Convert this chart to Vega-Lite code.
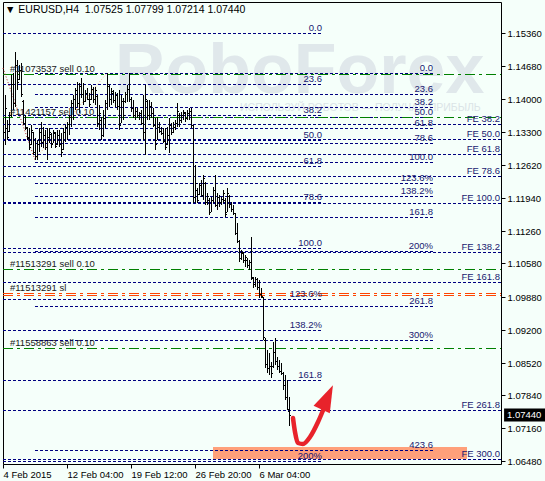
{
"$schema":"https://vega.github.io/schema/vega-lite/v6.json",
"width":498,"height":462,
"autosize":{"type":"none"},
"padding":{"left":3,"top":2,"right":44,"bottom":17},
"background":"#F5FFFA",
"config":{"view":{"stroke":"#000000","strokeWidth":1,"fill":"#F5FFFA"}},
"datasets":{
"bars":[
{"i":1,"o":1.1330,"h":1.14074,"l":1.13036,"c":1.1380},
{"i":2,"o":1.1338,"h":1.13555,"l":1.13140,"c":1.1320},
{"i":3,"o":1.1332,"h":1.13721,"l":1.13306,"c":1.1365},
{"i":4,"o":1.1365,"h":1.14489,"l":1.13617,"c":1.1430},
{"i":5,"o":1.1430,"h":1.14530,"l":1.13762,"c":1.1390},
{"i":6,"o":1.1390,"h":1.14966,"l":1.13825,"c":1.1470},
{"i":7,"o":1.1470,"h":1.14800,"l":1.14177,"c":1.1435},
{"i":8,"o":1.1440,"h":1.14696,"l":1.14385,"c":1.1460},
{"i":9,"o":1.1460,"h":1.14738,"l":1.14032,"c":1.1410},
{"i":10,"o":1.1395,"h":1.13970,"l":1.13451,"c":1.1350},
{"i":11,"o":1.1350,"h":1.13659,"l":1.13347,"c":1.1340},
{"i":12,"o":1.1338,"h":1.13410,"l":1.13140,"c":1.1318},
{"i":13,"o":1.1320,"h":1.13389,"l":1.12933,"c":1.1300},
{"i":14,"o":1.1305,"h":1.13451,"l":1.13036,"c":1.1335},
{"i":15,"o":1.1330,"h":1.13306,"l":1.12829,"c":1.1290},
{"i":16,"o":1.1290,"h":1.13182,"l":1.12725,"c":1.1280},
{"i":17,"o":1.1280,"h":1.13140,"l":1.12725,"c":1.1305},
{"i":18,"o":1.1305,"h":1.13389,"l":1.12891,"c":1.1330},
{"i":19,"o":1.1330,"h":1.13513,"l":1.12995,"c":1.1310},
{"i":20,"o":1.1310,"h":1.13410,"l":1.12974,"c":1.1325},
{"i":21,"o":1.1325,"h":1.13347,"l":1.12933,"c":1.1300},
{"i":22,"o":1.1300,"h":1.13389,"l":1.12725,"c":1.1320},
{"i":23,"o":1.1320,"h":1.13389,"l":1.13078,"c":1.1330},
{"i":24,"o":1.1326,"h":1.13285,"l":1.12974,"c":1.1305},
{"i":25,"o":1.1308,"h":1.13347,"l":1.13078,"c":1.1330},
{"i":26,"o":1.1328,"h":1.13306,"l":1.12974,"c":1.1302},
{"i":27,"o":1.1305,"h":1.13347,"l":1.13036,"c":1.1325},
{"i":28,"o":1.1325,"h":1.13347,"l":1.12995,"c":1.1305},
{"i":29,"o":1.1305,"h":1.13285,"l":1.12787,"c":1.1290},
{"i":30,"o":1.1295,"h":1.13389,"l":1.12933,"c":1.1330},
{"i":31,"o":1.1330,"h":1.13451,"l":1.13099,"c":1.1340},
{"i":32,"o":1.1340,"h":1.13513,"l":1.13140,"c":1.1348},
{"i":33,"o":1.1348,"h":1.13659,"l":1.13244,"c":1.1362},
{"i":34,"o":1.1362,"h":1.13970,"l":1.13410,"c":1.1390},
{"i":35,"o":1.1390,"h":1.14074,"l":1.13555,"c":1.1400},
{"i":36,"o":1.1400,"h":1.14219,"l":1.13762,"c":1.1418},
{"i":37,"o":1.1418,"h":1.14343,"l":1.13825,"c":1.1390},
{"i":38,"o":1.1390,"h":1.14323,"l":1.13700,"c":1.1425},
{"i":39,"o":1.1425,"h":1.14426,"l":1.14011,"c":1.1410},
{"i":40,"o":1.1410,"h":1.14323,"l":1.13866,"c":1.1395},
{"i":41,"o":1.1395,"h":1.14177,"l":1.13928,"c":1.1412},
{"i":42,"o":1.1412,"h":1.14219,"l":1.13970,"c":1.1400},
{"i":43,"o":1.1400,"h":1.14115,"l":1.13825,"c":1.1388},
{"i":44,"o":1.1400,"h":1.14281,"l":1.13970,"c":1.1420},
{"i":45,"o":1.1420,"h":1.14240,"l":1.13908,"c":1.1400},
{"i":46,"o":1.1400,"h":1.14240,"l":1.13866,"c":1.1418},
{"i":47,"o":1.1405,"h":1.14074,"l":1.13410,"c":1.1350},
{"i":48,"o":1.1350,"h":1.13866,"l":1.13347,"c":1.1370},
{"i":49,"o":1.1355,"h":1.13617,"l":1.13140,"c":1.1325},
{"i":50,"o":1.1325,"h":1.13762,"l":1.13202,"c":1.1360},
{"i":51,"o":1.1360,"h":1.13970,"l":1.13389,"c":1.1390},
{"i":52,"o":1.1390,"h":1.14530,"l":1.13762,"c":1.1430},
{"i":53,"o":1.1425,"h":1.14281,"l":1.13825,"c":1.1400},
{"i":54,"o":1.1400,"h":1.14219,"l":1.13866,"c":1.1415},
{"i":55,"o":1.1412,"h":1.14177,"l":1.13908,"c":1.1398},
{"i":56,"o":1.1398,"h":1.14136,"l":1.13825,"c":1.1408},
{"i":57,"o":1.1408,"h":1.14115,"l":1.13762,"c":1.1385},
{"i":58,"o":1.1385,"h":1.14177,"l":1.13347,"c":1.1345},
{"i":59,"o":1.1350,"h":1.14074,"l":1.13493,"c":1.1395},
{"i":60,"o":1.1395,"h":1.14011,"l":1.13555,"c":1.1365},
{"i":61,"o":1.1395,"h":1.14136,"l":1.13908,"c":1.1410},
{"i":62,"o":1.1410,"h":1.14281,"l":1.13928,"c":1.1420},
{"i":63,"o":1.1420,"h":1.14530,"l":1.13928,"c":1.1400},
{"i":64,"o":1.1400,"h":1.14032,"l":1.13721,"c":1.1380},
{"i":65,"o":1.1380,"h":1.13970,"l":1.13596,"c":1.1365},
{"i":66,"o":1.1365,"h":1.13825,"l":1.13555,"c":1.1375},
{"i":67,"o":1.1375,"h":1.13804,"l":1.13596,"c":1.1365},
{"i":68,"o":1.1365,"h":1.13721,"l":1.13555,"c":1.1370},
{"i":69,"o":1.1370,"h":1.13762,"l":1.13451,"c":1.1350},
{"i":70,"o":1.1350,"h":1.14074,"l":1.13140,"c":1.1330},
{"i":71,"o":1.1330,"h":1.14281,"l":1.12829,"c":1.1400},
{"i":72,"o":1.1395,"h":1.13970,"l":1.13555,"c":1.1365},
{"i":73,"o":1.1365,"h":1.13970,"l":1.13555,"c":1.1385},
{"i":74,"o":1.1385,"h":1.13928,"l":1.13596,"c":1.1370},
{"i":75,"o":1.1370,"h":1.13804,"l":1.13410,"c":1.1345},
{"i":76,"o":1.1345,"h":1.13596,"l":1.12933,"c":1.1305},
{"i":77,"o":1.1315,"h":1.13617,"l":1.13140,"c":1.1340},
{"i":78,"o":1.1340,"h":1.13513,"l":1.13285,"c":1.1332},
{"i":79,"o":1.1332,"h":1.13410,"l":1.13244,"c":1.1328},
{"i":80,"o":1.1328,"h":1.13389,"l":1.13078,"c":1.1312},
{"i":81,"o":1.1312,"h":1.13389,"l":1.12933,"c":1.1300},
{"i":82,"o":1.1305,"h":1.13410,"l":1.13036,"c":1.1325},
{"i":83,"o":1.1325,"h":1.13596,"l":1.12870,"c":1.1345},
{"i":84,"o":1.1345,"h":1.13493,"l":1.13244,"c":1.1330},
{"i":85,"o":1.1330,"h":1.13513,"l":1.13285,"c":1.1340},
{"i":86,"o":1.1340,"h":1.13555,"l":1.13347,"c":1.1350},
{"i":87,"o":1.1350,"h":1.13908,"l":1.13410,"c":1.1375},
{"i":88,"o":1.1365,"h":1.13700,"l":1.13410,"c":1.1355},
{"i":89,"o":1.1355,"h":1.13721,"l":1.13493,"c":1.1365},
{"i":90,"o":1.1365,"h":1.13762,"l":1.13555,"c":1.1372},
{"i":91,"o":1.1370,"h":1.13721,"l":1.13513,"c":1.1360},
{"i":92,"o":1.1360,"h":1.13762,"l":1.13555,"c":1.1370},
{"i":93,"o":1.1370,"h":1.13804,"l":1.13555,"c":1.1375},
{"i":94,"o":1.1375,"h":1.13804,"l":1.13389,"c":1.1345},
{"i":95,"o":1.1345,"h":1.13451,"l":1.11833,"c":1.1195},
{"i":96,"o":1.1195,"h":1.12621,"l":1.11833,"c":1.1225},
{"i":97,"o":1.1210,"h":1.12144,"l":1.11833,"c":1.1190},
{"i":98,"o":1.1202,"h":1.12248,"l":1.11999,"c":1.1220},
{"i":99,"o":1.1220,"h":1.12310,"l":1.11957,"c":1.1200},
{"i":100,"o":1.1200,"h":1.12414,"l":1.11895,"c":1.1235},
{"i":101,"o":1.1225,"h":1.12269,"l":1.11791,"c":1.1185},
{"i":102,"o":1.1185,"h":1.12040,"l":1.11791,"c":1.1198},
{"i":103,"o":1.1190,"h":1.11937,"l":1.11584,"c":1.1165},
{"i":104,"o":1.1165,"h":1.11957,"l":1.11646,"c":1.1190},
{"i":105,"o":1.1190,"h":1.12165,"l":1.11833,"c":1.1210},
{"i":106,"o":1.1210,"h":1.12414,"l":1.11750,"c":1.1180},
{"i":107,"o":1.1180,"h":1.12040,"l":1.11688,"c":1.1195},
{"i":108,"o":1.1195,"h":1.11999,"l":1.11750,"c":1.1185},
{"i":109,"o":1.1185,"h":1.11957,"l":1.11791,"c":1.1192},
{"i":110,"o":1.1192,"h":1.12103,"l":1.11833,"c":1.1205},
{"i":111,"o":1.1190,"h":1.11937,"l":1.11542,"c":1.1160},
{"i":112,"o":1.1165,"h":1.12144,"l":1.11646,"c":1.1205},
{"i":113,"o":1.1198,"h":1.11999,"l":1.11729,"c":1.1182},
{"i":114,"o":1.1182,"h":1.11854,"l":1.11646,"c":1.1170},
{"i":115,"o":1.1170,"h":1.11791,"l":1.11584,"c":1.1162},
{"i":116,"o":1.1162,"h":1.11625,"l":1.11169,"c":1.1122},
{"i":117,"o":1.1122,"h":1.11418,"l":1.11003,"c":1.1105},
{"i":118,"o":1.1105,"h":1.11065,"l":1.10609,"c":1.1070},
{"i":119,"o":1.1070,"h":1.10858,"l":1.10650,"c":1.1082},
{"i":120,"o":1.1080,"h":1.10816,"l":1.10588,"c":1.1065},
{"i":121,"o":1.1065,"h":1.10754,"l":1.10505,"c":1.1072},
{"i":122,"o":1.1065,"h":1.10692,"l":1.10484,"c":1.1055},
{"i":123,"o":1.1055,"h":1.10650,"l":1.10443,"c":1.1060},
{"i":124,"o":1.1060,"h":1.11127,"l":1.10235,"c":1.1030},
{"i":125,"o":1.1028,"h":1.10298,"l":1.10069,"c":1.1015},
{"i":126,"o":1.1015,"h":1.10298,"l":1.10090,"c":1.1025},
{"i":127,"o":1.1025,"h":1.10277,"l":1.10028,"c":1.1008},
{"i":128,"o":1.1008,"h":1.10235,"l":1.09862,"c":1.0995},
{"i":129,"o":1.0995,"h":1.10069,"l":1.09862,"c":1.0990},
{"i":130,"o":1.0988,"h":1.09883,"l":1.08990,"c":1.0905},
{"i":131,"o":1.0900,"h":1.09032,"l":1.08409,"c":1.0850},
{"i":132,"o":1.0850,"h":1.08783,"l":1.08306,"c":1.0840},
{"i":133,"o":1.0840,"h":1.08721,"l":1.08264,"c":1.0845},
{"i":134,"o":1.0845,"h":1.08534,"l":1.08202,"c":1.0830},
{"i":135,"o":1.0845,"h":1.08949,"l":1.08409,"c":1.0875},
{"i":136,"o":1.0875,"h":1.09032,"l":1.08472,"c":1.0855},
{"i":137,"o":1.0855,"h":1.08638,"l":1.08368,"c":1.0845},
{"i":138,"o":1.0845,"h":1.08575,"l":1.08306,"c":1.0835},
{"i":139,"o":1.0835,"h":1.08513,"l":1.08264,"c":1.0830},
{"i":140,"o":1.0830,"h":1.08326,"l":1.07953,"c":1.0805},
{"i":141,"o":1.0805,"h":1.08264,"l":1.07745,"c":1.0780},
{"i":142,"o":1.0780,"h":1.08160,"l":1.07538,"c":1.0755},
{"i":143,"o":1.07525,"h":1.07799,"l":1.07214,"c":1.07440}
],
"levels":[
{"t":"0.0","p":1.15360,"a":0,"b":160},{"t":"23.6","p":1.14309,"a":0,"b":160},{"t":"38.2","p":1.13658,"a":0,"b":160},{"t":"50.0","p":1.13133,"a":0,"b":160},{"t":"61.8","p":1.12607,"a":0,"b":160},{"t":"78.6","p":1.11858,"a":0,"b":160},{"t":"100.0","p":1.10905,"a":0,"b":160},{"t":"123.6%","p":1.09846,"a":0,"b":160},{"t":"138.2%","p":1.09203,"a":0,"b":160},{"t":"161.8","p":1.08152,"a":0,"b":160},{"t":"200%","p":1.06480,"a":0,"b":160},
{"t":"0.0","p":1.14530,"a":16,"b":215.5},{"t":"23.6","p":1.14094,"a":16,"b":215.5},{"t":"38.2","p":1.13825,"a":16,"b":215.5},{"t":"50.0","p":1.13607,"a":16,"b":215.5},{"t":"61.8","p":1.13389,"a":16,"b":215.5},{"t":"78.6","p":1.13079,"a":16,"b":215.5},{"t":"100.0","p":1.12684,"a":16,"b":215.5},{"t":"123.6%","p":1.12248,"a":16,"b":215.5},{"t":"138.2%","p":1.11978,"a":16,"b":215.5},{"t":"161.8","p":1.11542,"a":16,"b":215.5},{"t":"200%","p":1.10837,"a":16,"b":215.5},{"t":"261.8","p":1.09696,"a":16,"b":215.5},{"t":"300%","p":1.08990,"a":16,"b":215.5},{"t":"423.6","p":1.06708,"a":16,"b":215.5},
{"t":"FE 38.2","p":1.13475,"a":0,"b":249},{"t":"FE 50.0","p":1.13162,"a":0,"b":249},{"t":"FE 61.8","p":1.12849,"a":0,"b":249},{"t":"FE 78.6","p":1.12403,"a":0,"b":249},{"t":"FE 100.0","p":1.11835,"a":0,"b":249},{"t":"FE 138.2","p":1.10822,"a":0,"b":249},{"t":"FE 161.8","p":1.10195,"a":0,"b":249},{"t":"FE 261.8","p":1.07542,"a":0,"b":249},{"t":"FE 300.0","p":1.06528,"a":0,"b":249}
],
"orders":[{"t":"#11073537 sell 0.10","p":1.14510},{"t":"#11421157 sell 0.10","p":1.13617},{"t":"#11513291 sell 0.10","p":1.10464},{"t":"#11558863 sell 0.10","p":1.08818}],
"sl":[{"t":"#11513291 sl","p":1.09939}],
"arrow":[{"i":145,"p":1.07372},{"i":146,"p":1.07082},{"i":147.5,"p":1.06853},{"i":150,"p":1.06833},{"i":153.5,"p":1.06978},{"i":157.5,"p":1.07289},{"i":160.5,"p":1.07580}]
},
"layer":[
{"data":{"values":[{"i1":105,"i2":232,"p1":1.06776,"p2":1.06521}]},
 "mark":{"type":"rect","color":"#FFA07A"},
 "encoding":{"x":{"field":"i1","type":"quantitative","scale":{"domain":[0,249],"nice":false,"zero":false,"round":true},"axis":{"values":[0,32,64,96,128],"labelExpr":"datum.value==0?'4 Feb 2015':datum.value==32?'12 Feb 04:00':datum.value==64?'19 Feb 12:00':datum.value==96?'26 Feb 20:00':'6 Mar 04:00'","labelAlign":"left","labelFont":"Liberation Sans","labelFontSize":9.5,"labelColor":"#000000","tickColor":"#000000","tickSize":4,"domain":false,"grid":false,"title":null,"labelPadding":1,"labelFlush":false,"labelOverlap":false,"labelBound":false}},"x2":{"field":"i2"},
  "y":{"field":"p1","type":"quantitative","scale":{"domain":[1.06418,1.16003],"nice":false,"zero":false,"round":true},"axis":{"orient":"right","values":[1.0648,1.0716,1.0784,1.0852,1.092,1.0988,1.1058,1.1126,1.1194,1.1262,1.133,1.14,1.1468,1.1536],"format":".5f","labelFont":"Liberation Sans","labelFontSize":9.5,"labelColor":"#000000","tickColor":"#000000","tickSize":4,"labelPadding":2,"domain":false,"grid":false,"title":null,"labelOverlap":false,"labelBound":false}},"y2":{"field":"p2"}}},
{"data":{"values":[{"i":56,"p":1.14115,"t":"RoboForex"}]},
 "mark":{"type":"text","font":"Liberation Sans","fontWeight":"bold","fontSize":70,"color":"#e0e8eb","align":"left","baseline":"alphabetic"},
 "encoding":{"x":{"field":"i","type":"quantitative","scale":{"domain":[0,249],"nice":false,"zero":false,"round":true},"axis":{"values":[0,32,64,96,128],"labelExpr":"datum.value==0?'4 Feb 2015':datum.value==32?'12 Feb 04:00':datum.value==64?'19 Feb 12:00':datum.value==96?'26 Feb 20:00':'6 Mar 04:00'","labelAlign":"left","labelFont":"Liberation Sans","labelFontSize":9.5,"labelColor":"#000000","tickColor":"#000000","tickSize":4,"domain":false,"grid":false,"title":null,"labelPadding":1,"labelFlush":false,"labelOverlap":false,"labelBound":false}},
  "y":{"field":"p","type":"quantitative","scale":{"domain":[1.06418,1.16003],"nice":false,"zero":false,"round":true},"axis":{"orient":"right","values":[1.0648,1.0716,1.0784,1.0852,1.092,1.0988,1.1058,1.1126,1.1194,1.1262,1.133,1.14,1.1468,1.1536],"format":".5f","labelFont":"Liberation Sans","labelFontSize":9.5,"labelColor":"#000000","tickColor":"#000000","tickSize":4,"labelPadding":2,"domain":false,"grid":false,"title":null,"labelOverlap":false,"labelBound":false}},"text":{"field":"t"}}},
{"data":{"values":[{"i":118.5,"p":1.13742,"t":"ИСПОЛЬЗУЙ РОБОТОВ — ПОЛУЧАЙ ПРИБЫЛЬ"}]},
 "mark":{"type":"text","font":"Liberation Sans","fontSize":10.5,"color":"#dbe4e7","align":"left","baseline":"alphabetic"},
 "encoding":{"x":{"field":"i","type":"quantitative","scale":{"domain":[0,249],"nice":false,"zero":false,"round":true},"axis":{"values":[0,32,64,96,128],"labelExpr":"datum.value==0?'4 Feb 2015':datum.value==32?'12 Feb 04:00':datum.value==64?'19 Feb 12:00':datum.value==96?'26 Feb 20:00':'6 Mar 04:00'","labelAlign":"left","labelFont":"Liberation Sans","labelFontSize":9.5,"labelColor":"#000000","tickColor":"#000000","tickSize":4,"domain":false,"grid":false,"title":null,"labelPadding":1,"labelFlush":false,"labelOverlap":false,"labelBound":false}},
  "y":{"field":"p","type":"quantitative","scale":{"domain":[1.06418,1.16003],"nice":false,"zero":false,"round":true},"axis":{"orient":"right","values":[1.0648,1.0716,1.0784,1.0852,1.092,1.0988,1.1058,1.1126,1.1194,1.1262,1.133,1.14,1.1468,1.1536],"format":".5f","labelFont":"Liberation Sans","labelFontSize":9.5,"labelColor":"#000000","tickColor":"#000000","tickSize":4,"labelPadding":2,"domain":false,"grid":false,"title":null,"labelOverlap":false,"labelBound":false}},"text":{"field":"t"}}},
{"data":{"name":"levels"},
 "mark":{"type":"rule","color":"#000080","strokeWidth":1,"strokeDash":[3,2],"yOffset":0.5},
 "encoding":{"x":{"field":"a","type":"quantitative","scale":{"domain":[0,249],"nice":false,"zero":false,"round":true},"axis":{"values":[0,32,64,96,128],"labelExpr":"datum.value==0?'4 Feb 2015':datum.value==32?'12 Feb 04:00':datum.value==64?'19 Feb 12:00':datum.value==96?'26 Feb 20:00':'6 Mar 04:00'","labelAlign":"left","labelFont":"Liberation Sans","labelFontSize":9.5,"labelColor":"#000000","tickColor":"#000000","tickSize":4,"domain":false,"grid":false,"title":null,"labelPadding":1,"labelFlush":false,"labelOverlap":false,"labelBound":false}},"x2":{"field":"b"},
  "y":{"field":"p","type":"quantitative","scale":{"domain":[1.06418,1.16003],"nice":false,"zero":false,"round":true},"axis":{"orient":"right","values":[1.0648,1.0716,1.0784,1.0852,1.092,1.0988,1.1058,1.1126,1.1194,1.1262,1.133,1.14,1.1468,1.1536],"format":".5f","labelFont":"Liberation Sans","labelFontSize":9.5,"labelColor":"#000000","tickColor":"#000000","tickSize":4,"labelPadding":2,"domain":false,"grid":false,"title":null,"labelOverlap":false,"labelBound":false}}}},
{"data":{"name":"orders"},
 "mark":{"type":"rule","color":"#008000","strokeWidth":1,"strokeDash":[10,4,3,4],"yOffset":0.5},
 "encoding":{"x":{"datum":0,"type":"quantitative","scale":{"domain":[0,249],"nice":false,"zero":false,"round":true},"axis":{"values":[0,32,64,96,128],"labelExpr":"datum.value==0?'4 Feb 2015':datum.value==32?'12 Feb 04:00':datum.value==64?'19 Feb 12:00':datum.value==96?'26 Feb 20:00':'6 Mar 04:00'","labelAlign":"left","labelFont":"Liberation Sans","labelFontSize":9.5,"labelColor":"#000000","tickColor":"#000000","tickSize":4,"domain":false,"grid":false,"title":null,"labelPadding":1,"labelFlush":false,"labelOverlap":false,"labelBound":false}},"x2":{"datum":249},
  "y":{"field":"p","type":"quantitative","scale":{"domain":[1.06418,1.16003],"nice":false,"zero":false,"round":true},"axis":{"orient":"right","values":[1.0648,1.0716,1.0784,1.0852,1.092,1.0988,1.1058,1.1126,1.1194,1.1262,1.133,1.14,1.1468,1.1536],"format":".5f","labelFont":"Liberation Sans","labelFontSize":9.5,"labelColor":"#000000","tickColor":"#000000","tickSize":4,"labelPadding":2,"domain":false,"grid":false,"title":null,"labelOverlap":false,"labelBound":false}}}},
{"data":{"name":"sl"},
 "mark":{"type":"rule","color":"#ff4500","strokeWidth":1,"strokeDash":[10,4,3,4],"yOffset":-0.5},
 "encoding":{"x":{"datum":0,"type":"quantitative","scale":{"domain":[0,249],"nice":false,"zero":false,"round":true},"axis":{"values":[0,32,64,96,128],"labelExpr":"datum.value==0?'4 Feb 2015':datum.value==32?'12 Feb 04:00':datum.value==64?'19 Feb 12:00':datum.value==96?'26 Feb 20:00':'6 Mar 04:00'","labelAlign":"left","labelFont":"Liberation Sans","labelFontSize":9.5,"labelColor":"#000000","tickColor":"#000000","tickSize":4,"domain":false,"grid":false,"title":null,"labelPadding":1,"labelFlush":false,"labelOverlap":false,"labelBound":false}},"x2":{"datum":249},
  "y":{"field":"p","type":"quantitative","scale":{"domain":[1.06418,1.16003],"nice":false,"zero":false,"round":true},"axis":{"orient":"right","values":[1.0648,1.0716,1.0784,1.0852,1.092,1.0988,1.1058,1.1126,1.1194,1.1262,1.133,1.14,1.1468,1.1536],"format":".5f","labelFont":"Liberation Sans","labelFontSize":9.5,"labelColor":"#000000","tickColor":"#000000","tickSize":4,"labelPadding":2,"domain":false,"grid":false,"title":null,"labelOverlap":false,"labelBound":false}}}},
{"data":{"name":"sl"},
 "mark":{"type":"rule","color":"#ff4500","strokeWidth":1,"strokeDash":[10,4,3,4],"yOffset":1.5},
 "encoding":{"x":{"datum":0,"type":"quantitative","scale":{"domain":[0,249],"nice":false,"zero":false,"round":true},"axis":{"values":[0,32,64,96,128],"labelExpr":"datum.value==0?'4 Feb 2015':datum.value==32?'12 Feb 04:00':datum.value==64?'19 Feb 12:00':datum.value==96?'26 Feb 20:00':'6 Mar 04:00'","labelAlign":"left","labelFont":"Liberation Sans","labelFontSize":9.5,"labelColor":"#000000","tickColor":"#000000","tickSize":4,"domain":false,"grid":false,"title":null,"labelPadding":1,"labelFlush":false,"labelOverlap":false,"labelBound":false}},"x2":{"datum":249},
  "y":{"field":"p","type":"quantitative","scale":{"domain":[1.06418,1.16003],"nice":false,"zero":false,"round":true},"axis":{"orient":"right","values":[1.0648,1.0716,1.0784,1.0852,1.092,1.0988,1.1058,1.1126,1.1194,1.1262,1.133,1.14,1.1468,1.1536],"format":".5f","labelFont":"Liberation Sans","labelFontSize":9.5,"labelColor":"#000000","tickColor":"#000000","tickSize":4,"labelPadding":2,"domain":false,"grid":false,"title":null,"labelOverlap":false,"labelBound":false}}}},
{"data":{"values":[{"i":0,"p":1.14634},{"i":16,"p":1.12725}]},
 "mark":{"type":"line","color":"#b22222","strokeWidth":1,"strokeDash":[1,2]},
 "encoding":{"x":{"field":"i","type":"quantitative","scale":{"domain":[0,249],"nice":false,"zero":false,"round":true},"axis":{"values":[0,32,64,96,128],"labelExpr":"datum.value==0?'4 Feb 2015':datum.value==32?'12 Feb 04:00':datum.value==64?'19 Feb 12:00':datum.value==96?'26 Feb 20:00':'6 Mar 04:00'","labelAlign":"left","labelFont":"Liberation Sans","labelFontSize":9.5,"labelColor":"#000000","tickColor":"#000000","tickSize":4,"domain":false,"grid":false,"title":null,"labelPadding":1,"labelFlush":false,"labelOverlap":false,"labelBound":false}},
  "y":{"field":"p","type":"quantitative","scale":{"domain":[1.06418,1.16003],"nice":false,"zero":false,"round":true},"axis":{"orient":"right","values":[1.0648,1.0716,1.0784,1.0852,1.092,1.0988,1.1058,1.1126,1.1194,1.1262,1.133,1.14,1.1468,1.1536],"format":".5f","labelFont":"Liberation Sans","labelFontSize":9.5,"labelColor":"#000000","tickColor":"#000000","tickSize":4,"labelPadding":2,"domain":false,"grid":false,"title":null,"labelOverlap":false,"labelBound":false}}}},
{"data":{"values":[{"i":16.5,"p":1.12772},{"i":52,"p":1.14530}]},
 "mark":{"type":"line","color":"#f5b880","strokeWidth":1,"strokeDash":[1,2]},
 "encoding":{"x":{"field":"i","type":"quantitative","scale":{"domain":[0,249],"nice":false,"zero":false,"round":true},"axis":{"values":[0,32,64,96,128],"labelExpr":"datum.value==0?'4 Feb 2015':datum.value==32?'12 Feb 04:00':datum.value==64?'19 Feb 12:00':datum.value==96?'26 Feb 20:00':'6 Mar 04:00'","labelAlign":"left","labelFont":"Liberation Sans","labelFontSize":9.5,"labelColor":"#000000","tickColor":"#000000","tickSize":4,"domain":false,"grid":false,"title":null,"labelPadding":1,"labelFlush":false,"labelOverlap":false,"labelBound":false}},
  "y":{"field":"p","type":"quantitative","scale":{"domain":[1.06418,1.16003],"nice":false,"zero":false,"round":true},"axis":{"orient":"right","values":[1.0648,1.0716,1.0784,1.0852,1.092,1.0988,1.1058,1.1126,1.1194,1.1262,1.133,1.14,1.1468,1.1536],"format":".5f","labelFont":"Liberation Sans","labelFontSize":9.5,"labelColor":"#000000","tickColor":"#000000","tickSize":4,"labelPadding":2,"domain":false,"grid":false,"title":null,"labelOverlap":false,"labelBound":false}}}},
{"data":{"name":"bars"},
 "mark":{"type":"rule","color":"#000000","strokeWidth":1,"xOffset":0.5},
 "encoding":{"x":{"field":"i","type":"quantitative","scale":{"domain":[0,249],"nice":false,"zero":false,"round":true},"axis":{"values":[0,32,64,96,128],"labelExpr":"datum.value==0?'4 Feb 2015':datum.value==32?'12 Feb 04:00':datum.value==64?'19 Feb 12:00':datum.value==96?'26 Feb 20:00':'6 Mar 04:00'","labelAlign":"left","labelFont":"Liberation Sans","labelFontSize":9.5,"labelColor":"#000000","tickColor":"#000000","tickSize":4,"domain":false,"grid":false,"title":null,"labelPadding":1,"labelFlush":false,"labelOverlap":false,"labelBound":false}},
  "y":{"field":"l","type":"quantitative","scale":{"domain":[1.06418,1.16003],"nice":false,"zero":false,"round":true},"axis":{"orient":"right","values":[1.0648,1.0716,1.0784,1.0852,1.092,1.0988,1.1058,1.1126,1.1194,1.1262,1.133,1.14,1.1468,1.1536],"format":".5f","labelFont":"Liberation Sans","labelFontSize":9.5,"labelColor":"#000000","tickColor":"#000000","tickSize":4,"labelPadding":2,"domain":false,"grid":false,"title":null,"labelOverlap":false,"labelBound":false}},
  "y2":{"field":"h"}}},
{"data":{"name":"bars"},
 "mark":{"type":"tick","orient":"horizontal","size":1,"thickness":1,"xOffset":-0.5,"yOffset":0.5,"color":"#000000","opacity":1},
 "encoding":{"x":{"field":"i","type":"quantitative","scale":{"domain":[0,249],"nice":false,"zero":false,"round":true},"axis":{"values":[0,32,64,96,128],"labelExpr":"datum.value==0?'4 Feb 2015':datum.value==32?'12 Feb 04:00':datum.value==64?'19 Feb 12:00':datum.value==96?'26 Feb 20:00':'6 Mar 04:00'","labelAlign":"left","labelFont":"Liberation Sans","labelFontSize":9.5,"labelColor":"#000000","tickColor":"#000000","tickSize":4,"domain":false,"grid":false,"title":null,"labelPadding":1,"labelFlush":false,"labelOverlap":false,"labelBound":false}},
  "y":{"field":"o","type":"quantitative","scale":{"domain":[1.06418,1.16003],"nice":false,"zero":false,"round":true},"axis":{"orient":"right","values":[1.0648,1.0716,1.0784,1.0852,1.092,1.0988,1.1058,1.1126,1.1194,1.1262,1.133,1.14,1.1468,1.1536],"format":".5f","labelFont":"Liberation Sans","labelFontSize":9.5,"labelColor":"#000000","tickColor":"#000000","tickSize":4,"labelPadding":2,"domain":false,"grid":false,"title":null,"labelOverlap":false,"labelBound":false}}}},
{"data":{"name":"bars"},
 "mark":{"type":"tick","orient":"horizontal","size":1,"thickness":1,"xOffset":1.5,"yOffset":0.5,"color":"#000000","opacity":1},
 "encoding":{"x":{"field":"i","type":"quantitative","scale":{"domain":[0,249],"nice":false,"zero":false,"round":true},"axis":{"values":[0,32,64,96,128],"labelExpr":"datum.value==0?'4 Feb 2015':datum.value==32?'12 Feb 04:00':datum.value==64?'19 Feb 12:00':datum.value==96?'26 Feb 20:00':'6 Mar 04:00'","labelAlign":"left","labelFont":"Liberation Sans","labelFontSize":9.5,"labelColor":"#000000","tickColor":"#000000","tickSize":4,"domain":false,"grid":false,"title":null,"labelPadding":1,"labelFlush":false,"labelOverlap":false,"labelBound":false}},
  "y":{"field":"c","type":"quantitative","scale":{"domain":[1.06418,1.16003],"nice":false,"zero":false,"round":true},"axis":{"orient":"right","values":[1.0648,1.0716,1.0784,1.0852,1.092,1.0988,1.1058,1.1126,1.1194,1.1262,1.133,1.14,1.1468,1.1536],"format":".5f","labelFont":"Liberation Sans","labelFontSize":9.5,"labelColor":"#000000","tickColor":"#000000","tickSize":4,"labelPadding":2,"domain":false,"grid":false,"title":null,"labelOverlap":false,"labelBound":false}}}},
{"data":{"name":"levels"},
 "mark":{"type":"text","font":"Liberation Sans","fontSize":9.5,"color":"#191970","align":"right","baseline":"alphabetic","dy":-2,"dx":-1},
 "encoding":{"x":{"field":"b","type":"quantitative","scale":{"domain":[0,249],"nice":false,"zero":false,"round":true},"axis":{"values":[0,32,64,96,128],"labelExpr":"datum.value==0?'4 Feb 2015':datum.value==32?'12 Feb 04:00':datum.value==64?'19 Feb 12:00':datum.value==96?'26 Feb 20:00':'6 Mar 04:00'","labelAlign":"left","labelFont":"Liberation Sans","labelFontSize":9.5,"labelColor":"#000000","tickColor":"#000000","tickSize":4,"domain":false,"grid":false,"title":null,"labelPadding":1,"labelFlush":false,"labelOverlap":false,"labelBound":false}},
  "y":{"field":"p","type":"quantitative","scale":{"domain":[1.06418,1.16003],"nice":false,"zero":false,"round":true},"axis":{"orient":"right","values":[1.0648,1.0716,1.0784,1.0852,1.092,1.0988,1.1058,1.1126,1.1194,1.1262,1.133,1.14,1.1468,1.1536],"format":".5f","labelFont":"Liberation Sans","labelFontSize":9.5,"labelColor":"#000000","tickColor":"#000000","tickSize":4,"labelPadding":2,"domain":false,"grid":false,"title":null,"labelOverlap":false,"labelBound":false}},"text":{"field":"t"}}},
{"data":{"name":"orders"},
 "mark":{"type":"text","font":"Liberation Sans","fontSize":9.5,"color":"#202020","align":"left","baseline":"alphabetic","dy":-2},
 "encoding":{"x":{"datum":3.5,"type":"quantitative","scale":{"domain":[0,249],"nice":false,"zero":false,"round":true},"axis":{"values":[0,32,64,96,128],"labelExpr":"datum.value==0?'4 Feb 2015':datum.value==32?'12 Feb 04:00':datum.value==64?'19 Feb 12:00':datum.value==96?'26 Feb 20:00':'6 Mar 04:00'","labelAlign":"left","labelFont":"Liberation Sans","labelFontSize":9.5,"labelColor":"#000000","tickColor":"#000000","tickSize":4,"domain":false,"grid":false,"title":null,"labelPadding":1,"labelFlush":false,"labelOverlap":false,"labelBound":false}},
  "y":{"field":"p","type":"quantitative","scale":{"domain":[1.06418,1.16003],"nice":false,"zero":false,"round":true},"axis":{"orient":"right","values":[1.0648,1.0716,1.0784,1.0852,1.092,1.0988,1.1058,1.1126,1.1194,1.1262,1.133,1.14,1.1468,1.1536],"format":".5f","labelFont":"Liberation Sans","labelFontSize":9.5,"labelColor":"#000000","tickColor":"#000000","tickSize":4,"labelPadding":2,"domain":false,"grid":false,"title":null,"labelOverlap":false,"labelBound":false}},"text":{"field":"t"}}},
{"data":{"name":"sl"},
 "mark":{"type":"text","font":"Liberation Sans","fontSize":9.5,"color":"#202020","align":"left","baseline":"alphabetic","dy":-3},
 "encoding":{"x":{"datum":3.5,"type":"quantitative","scale":{"domain":[0,249],"nice":false,"zero":false,"round":true},"axis":{"values":[0,32,64,96,128],"labelExpr":"datum.value==0?'4 Feb 2015':datum.value==32?'12 Feb 04:00':datum.value==64?'19 Feb 12:00':datum.value==96?'26 Feb 20:00':'6 Mar 04:00'","labelAlign":"left","labelFont":"Liberation Sans","labelFontSize":9.5,"labelColor":"#000000","tickColor":"#000000","tickSize":4,"domain":false,"grid":false,"title":null,"labelPadding":1,"labelFlush":false,"labelOverlap":false,"labelBound":false}},
  "y":{"field":"p","type":"quantitative","scale":{"domain":[1.06418,1.16003],"nice":false,"zero":false,"round":true},"axis":{"orient":"right","values":[1.0648,1.0716,1.0784,1.0852,1.092,1.0988,1.1058,1.1126,1.1194,1.1262,1.133,1.14,1.1468,1.1536],"format":".5f","labelFont":"Liberation Sans","labelFontSize":9.5,"labelColor":"#000000","tickColor":"#000000","tickSize":4,"labelPadding":2,"domain":false,"grid":false,"title":null,"labelOverlap":false,"labelBound":false}},"text":{"field":"t"}}},
{"data":{"name":"arrow"},
 "mark":{"type":"line","color":"#e8232b","strokeWidth":4.5,"strokeCap":"round","interpolate":"monotone"},
 "encoding":{"x":{"field":"i","type":"quantitative","scale":{"domain":[0,249],"nice":false,"zero":false,"round":true},"axis":{"values":[0,32,64,96,128],"labelExpr":"datum.value==0?'4 Feb 2015':datum.value==32?'12 Feb 04:00':datum.value==64?'19 Feb 12:00':datum.value==96?'26 Feb 20:00':'6 Mar 04:00'","labelAlign":"left","labelFont":"Liberation Sans","labelFontSize":9.5,"labelColor":"#000000","tickColor":"#000000","tickSize":4,"domain":false,"grid":false,"title":null,"labelPadding":1,"labelFlush":false,"labelOverlap":false,"labelBound":false}},
  "y":{"field":"p","type":"quantitative","scale":{"domain":[1.06418,1.16003],"nice":false,"zero":false,"round":true},"axis":{"orient":"right","values":[1.0648,1.0716,1.0784,1.0852,1.092,1.0988,1.1058,1.1126,1.1194,1.1262,1.133,1.14,1.1468,1.1536],"format":".5f","labelFont":"Liberation Sans","labelFontSize":9.5,"labelColor":"#000000","tickColor":"#000000","tickSize":4,"labelPadding":2,"domain":false,"grid":false,"title":null,"labelOverlap":false,"labelBound":false}}}},
{"data":{"values":[{"i":162.05,"p":1.07793}]},
 "mark":{"type":"point","shape":"M0,-1L0.64,0.9L-0.64,0.9Z","size":784,"angle":25,"filled":true,"color":"#e8232b","opacity":1,"strokeWidth":0},
 "encoding":{"x":{"field":"i","type":"quantitative","scale":{"domain":[0,249],"nice":false,"zero":false,"round":true},"axis":{"values":[0,32,64,96,128],"labelExpr":"datum.value==0?'4 Feb 2015':datum.value==32?'12 Feb 04:00':datum.value==64?'19 Feb 12:00':datum.value==96?'26 Feb 20:00':'6 Mar 04:00'","labelAlign":"left","labelFont":"Liberation Sans","labelFontSize":9.5,"labelColor":"#000000","tickColor":"#000000","tickSize":4,"domain":false,"grid":false,"title":null,"labelPadding":1,"labelFlush":false,"labelOverlap":false,"labelBound":false}},
  "y":{"field":"p","type":"quantitative","scale":{"domain":[1.06418,1.16003],"nice":false,"zero":false,"round":true},"axis":{"orient":"right","values":[1.0648,1.0716,1.0784,1.0852,1.092,1.0988,1.1058,1.1126,1.1194,1.1262,1.133,1.14,1.1468,1.1536],"format":".5f","labelFont":"Liberation Sans","labelFontSize":9.5,"labelColor":"#000000","tickColor":"#000000","tickSize":4,"labelPadding":2,"domain":false,"grid":false,"title":null,"labelOverlap":false,"labelBound":false}}}},
{"data":{"values":[{"p":1.0744,"t":"1.07440"}]},
 "mark":{"type":"point","shape":"M0.14,-0.3L2,-0.3L2,0.3L0.14,0.3Z","size":1936,"filled":true,"color":"#000000","opacity":1,"strokeWidth":0},
 "encoding":{"x":{"datum":249,"type":"quantitative","scale":{"domain":[0,249],"nice":false,"zero":false,"round":true},"axis":{"values":[0,32,64,96,128],"labelExpr":"datum.value==0?'4 Feb 2015':datum.value==32?'12 Feb 04:00':datum.value==64?'19 Feb 12:00':datum.value==96?'26 Feb 20:00':'6 Mar 04:00'","labelAlign":"left","labelFont":"Liberation Sans","labelFontSize":9.5,"labelColor":"#000000","tickColor":"#000000","tickSize":4,"domain":false,"grid":false,"title":null,"labelPadding":1,"labelFlush":false,"labelOverlap":false,"labelBound":false}},
  "y":{"field":"p","type":"quantitative","scale":{"domain":[1.06418,1.16003],"nice":false,"zero":false,"round":true},"axis":{"orient":"right","values":[1.0648,1.0716,1.0784,1.0852,1.092,1.0988,1.1058,1.1126,1.1194,1.1262,1.133,1.14,1.1468,1.1536],"format":".5f","labelFont":"Liberation Sans","labelFontSize":9.5,"labelColor":"#000000","tickColor":"#000000","tickSize":4,"labelPadding":2,"domain":false,"grid":false,"title":null,"labelOverlap":false,"labelBound":false}}}},
{"data":{"values":[{"p":1.0744,"t":"1.07440"}]},
 "mark":{"type":"text","font":"Liberation Sans","fontSize":9.5,"color":"#ffffff","align":"left","baseline":"middle","dx":6},
 "encoding":{"x":{"datum":249,"type":"quantitative","scale":{"domain":[0,249],"nice":false,"zero":false,"round":true},"axis":{"values":[0,32,64,96,128],"labelExpr":"datum.value==0?'4 Feb 2015':datum.value==32?'12 Feb 04:00':datum.value==64?'19 Feb 12:00':datum.value==96?'26 Feb 20:00':'6 Mar 04:00'","labelAlign":"left","labelFont":"Liberation Sans","labelFontSize":9.5,"labelColor":"#000000","tickColor":"#000000","tickSize":4,"domain":false,"grid":false,"title":null,"labelPadding":1,"labelFlush":false,"labelOverlap":false,"labelBound":false}},
  "y":{"field":"p","type":"quantitative","scale":{"domain":[1.06418,1.16003],"nice":false,"zero":false,"round":true},"axis":{"orient":"right","values":[1.0648,1.0716,1.0784,1.0852,1.092,1.0988,1.1058,1.1126,1.1194,1.1262,1.133,1.14,1.1468,1.1536],"format":".5f","labelFont":"Liberation Sans","labelFontSize":9.5,"labelColor":"#000000","tickColor":"#000000","tickSize":4,"labelPadding":2,"domain":false,"grid":false,"title":null,"labelOverlap":false,"labelBound":false}},"text":{"field":"t"}}},
{"data":{"values":[{"i":1,"p":1.15837,"t":"▼ EURUSD,H4\u00a0\u00a01.07525 1.07799 1.07214 1.07440"}]},
 "mark":{"type":"text","font":"Liberation Sans","fontSize":10.5,"color":"#000000","align":"left","baseline":"middle"},
 "encoding":{"x":{"field":"i","type":"quantitative","scale":{"domain":[0,249],"nice":false,"zero":false,"round":true},"axis":{"values":[0,32,64,96,128],"labelExpr":"datum.value==0?'4 Feb 2015':datum.value==32?'12 Feb 04:00':datum.value==64?'19 Feb 12:00':datum.value==96?'26 Feb 20:00':'6 Mar 04:00'","labelAlign":"left","labelFont":"Liberation Sans","labelFontSize":9.5,"labelColor":"#000000","tickColor":"#000000","tickSize":4,"domain":false,"grid":false,"title":null,"labelPadding":1,"labelFlush":false,"labelOverlap":false,"labelBound":false}},
  "y":{"field":"p","type":"quantitative","scale":{"domain":[1.06418,1.16003],"nice":false,"zero":false,"round":true},"axis":{"orient":"right","values":[1.0648,1.0716,1.0784,1.0852,1.092,1.0988,1.1058,1.1126,1.1194,1.1262,1.133,1.14,1.1468,1.1536],"format":".5f","labelFont":"Liberation Sans","labelFontSize":9.5,"labelColor":"#000000","tickColor":"#000000","tickSize":4,"labelPadding":2,"domain":false,"grid":false,"title":null,"labelOverlap":false,"labelBound":false}},"text":{"field":"t"}}}
]
}
